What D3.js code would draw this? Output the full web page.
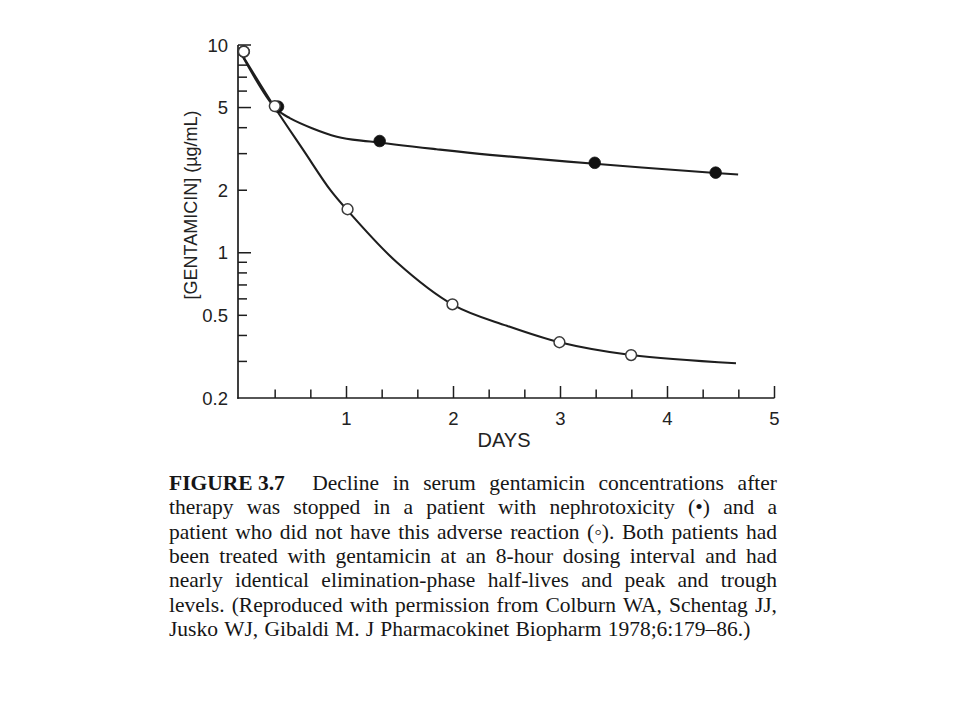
<!DOCTYPE html>
<html>
<head>
<meta charset="utf-8">
<script src="https://cdn.jsdelivr.net/npm/d3@7"></script>
<style>
  html, body { margin: 0; padding: 0; background: #fff; }
  svg { display: block; }
</style>
</head>
<body>
<svg id="chart" width="960" height="720"></svg>
<script>
// ---------- data ----------
// Observed points, nephrotoxicity patient (filled circles)
const filledDays   = [0.04, 0.36, 1.31, 3.32, 4.45];
const filledConc   = [9.3, 5.05, 3.45, 2.71, 2.43];
// Observed points, patient without adverse reaction (open circles)
const openDays     = [0.04, 0.33, 1.01, 1.99, 2.99, 3.66];
const openConc     = [9.3, 5.08, 1.62, 0.565, 0.371, 0.322];
// Fitted curves
const filledFitDays = [0, 0.33, 0.47, 0.91, 1.22, 1.84, 2.34, 3.32, 4.45, 4.66];
const filledFitConc = [9.4, 5.0, 4.45, 3.62, 3.43, 3.15, 2.96, 2.68, 2.42, 2.38];
const openFitDays   = [0, 0.33, 0.6, 0.85, 1.0, 1.47, 2.0, 2.5, 3.0, 3.66, 4.64];
const openFitConc   = [9.4, 5.0, 3.1, 2.0, 1.62, 0.9, 0.56, 0.445, 0.37, 0.322, 0.294];
// Axis ticks
const xMajorTicks = [1, 2, 3, 4, 5];
const xMinorTicks = [1/3, 2/3, 4/3, 5/3, 7/3, 8/3, 10/3, 11/3, 13/3, 14/3];
const yLabelTicks = [10, 5, 2, 1, 0.5, 0.2];
const yLabelText  = ["10", "5", "2", "1", "0.5", "0.2"];
const yLongTicks  = [10, 5, 1];
const yShortTicks = [9, 8, 7, 6, 4, 3, 2, 0.9, 0.8, 0.7, 0.6, 0.5, 0.4, 0.3];
const xTitle = "DAYS";
const yTitle = "[GENTAMICIN] (\u00b5g/mL)";
const captionLines = [
  ["FIGURE 3.7", "Decline in serum gentamicin concentrations after"],
  ["", "therapy was stopped in a patient with nephrotoxicity (\u2022) and a"],
  ["", "patient who did not have this adverse reaction (\u25e6). Both patients had"],
  ["", "been treated with gentamicin at an 8-hour dosing interval and had"],
  ["", "nearly identical elimination-phase half-lives and peak and trough"],
  ["", "levels. (Reproduced with permission from Colburn WA, Schentag JJ,"],
  ["", "Jusko WJ, Gibaldi M. J Pharmacokinet Biopharm 1978;6:179\u201386.)"]
];

// ---------- layout ----------
const svg = d3.select("#chart");
const x = d3.scaleLinear().domain([0, 5]).range([239.5, 774.5]);
const y = d3.scaleLog().domain([0.2, 10]).range([398, 45]);
const ink = "#1e1e1e";
const sans = "'Liberation Sans', Arial, sans-serif";
const labelInk = "#222";

const g = svg.append("g");

// axes lines
g.append("line").attr("x1", x(0) - 1.5).attr("x2", x(0) - 1.5)
  .attr("y1", y(10)).attr("y2", y(0.2) + 0.75)
  .attr("stroke", ink).attr("stroke-width", 1.7);
g.append("line").attr("x1", x(0) - 2.3).attr("x2", x(5))
  .attr("y1", y(0.2)).attr("y2", y(0.2))
  .attr("stroke", ink).attr("stroke-width", 1.7);

// y ticks (pointing inward)
const yx0 = x(0) - 1.5;
g.selectAll(".ylong").data(yLongTicks).join("line")
  .attr("x1", yx0).attr("x2", yx0 + 13)
  .attr("y1", d => y(d)).attr("y2", d => y(d))
  .attr("stroke", ink).attr("stroke-width", 1.5);
g.selectAll(".yshort").data(yShortTicks).join("line")
  .attr("x1", yx0).attr("x2", yx0 + 9)
  .attr("y1", d => y(d)).attr("y2", d => y(d))
  .attr("stroke", ink).attr("stroke-width", 1.5);

// x ticks (pointing inward)
const y0 = y(0.2);
g.selectAll(".xmaj").data(xMajorTicks).join("line")
  .attr("x1", d => x(d)).attr("x2", d => x(d))
  .attr("y1", y0).attr("y2", y0 - 12)
  .attr("stroke", ink).attr("stroke-width", 1.5);
g.selectAll(".xmin").data(xMinorTicks).join("line")
  .attr("x1", d => x(d)).attr("x2", d => x(d))
  .attr("y1", y0).attr("y2", y0 - 8.5)
  .attr("stroke", ink).attr("stroke-width", 1.5);

// tick labels
g.selectAll(".ylab").data(yLabelTicks).join("text")
  .attr("x", 228).attr("y", d => y(d))
  .attr("text-anchor", "end").attr("dominant-baseline", "central")
  .attr("font-family", sans).attr("font-size", 18.5).attr("fill", labelInk)
  .text((d, i) => yLabelText[i]);
g.selectAll(".xlab").data(xMajorTicks).join("text")
  .attr("x", d => x(d)).attr("y", 424.5)
  .attr("text-anchor", "middle")
  .attr("font-family", sans).attr("font-size", 18.5).attr("fill", labelInk)
  .text(d => d);

// axis titles
g.append("text").attr("x", 504).attr("y", 446.5)
  .attr("text-anchor", "middle").attr("font-family", sans)
  .attr("font-size", 20).attr("fill", labelInk).text(xTitle);
g.append("text")
  .attr("transform", "translate(191,205) rotate(-90)")
  .attr("text-anchor", "middle").attr("dominant-baseline", "central")
  .attr("font-family", sans).attr("font-size", 18).attr("fill", labelInk)
  .text(yTitle);

// fitted curves
const line = d3.line().x(d => x(d[0])).y(d => y(d[1])).curve(d3.curveCatmullRom.alpha(0.5));
g.append("path").datum(d3.zip(openFitDays, openFitConc))
  .attr("d", line).attr("fill", "none").attr("stroke", ink).attr("stroke-width", 2.1);
g.append("path").datum(d3.zip(filledFitDays, filledFitConc))
  .attr("d", line).attr("fill", "none").attr("stroke", ink).attr("stroke-width", 2.1);

// markers
g.selectAll(".filled").data(d3.zip(filledDays, filledConc)).join("circle")
  .attr("cx", d => x(d[0])).attr("cy", d => y(d[1])).attr("r", 5.8)
  .attr("fill", "#111").attr("stroke", "#111").attr("stroke-width", 0.8);
g.selectAll(".open").data(d3.zip(openDays, openConc)).join("circle")
  .attr("cx", d => x(d[0])).attr("cy", d => y(d[1])).attr("r", 5.4)
  .attr("fill", "#fff").attr("stroke", "#3a3a3a").attr("stroke-width", 1.5);

// ---------- caption (justified) ----------
const serif = "'Liberation Serif', 'Times New Roman', serif";
const capLeft = 169, capRight = 777, capTop = 490, capStep = 24.35;
const cap = svg.append("g");
function measure(str, size, bold) {
  const t = cap.append("text").attr("font-family", serif).attr("font-size", size)
    .attr("font-weight", bold ? "bold" : "normal").text(str);
  const w = t.node().getComputedTextLength();
  t.remove();
  return w;
}
// pick font size so the tightest line fits
let fs = 21.5;
for (let k = 0; k < 12; k++) {
  let maxW = 0;
  captionLines.slice(0, -1).forEach(([b, r]) => {
    const w = (b ? measure(b, fs, true) + measure("  ", fs, false) : 0) + measure(r, fs, false);
    maxW = Math.max(maxW, w);
  });
  if (maxW <= capRight - capLeft - 4) break;
  fs -= 0.25;
}
captionLines.forEach(([bold, rest], li) => {
  const yy = capTop + li * capStep;
  const words = rest.split(" ");
  const tokens = [];
  if (bold) tokens.push({ s: bold, b: true });
  words.forEach(w => tokens.push({ s: w, b: false }));
  const widths = tokens.map(t => measure(t.s, fs, t.b));
  const total = d3.sum(widths);
  const isLast = li === captionLines.length - 1;
  const space = measure("a a", fs, false) - measure("aa", fs, false);
  const weights = tokens.slice(0, -1).map(t => t.b ? 2 : 1);
  const gap = isLast ? space * 1.15 : (capRight - capLeft - total) / d3.sum(weights);
  let cx = capLeft;
  const t = cap.append("text").attr("y", yy).attr("font-family", serif)
    .attr("font-size", fs).attr("fill", "#161616");
  tokens.forEach((tk, i) => {
    t.append("tspan").attr("x", cx).attr("font-weight", tk.b ? "bold" : "normal").text(tk.s);
    cx += widths[i] + (i < weights.length ? weights[i] * gap : 0);
  });
});
</script>
</body>
</html>
